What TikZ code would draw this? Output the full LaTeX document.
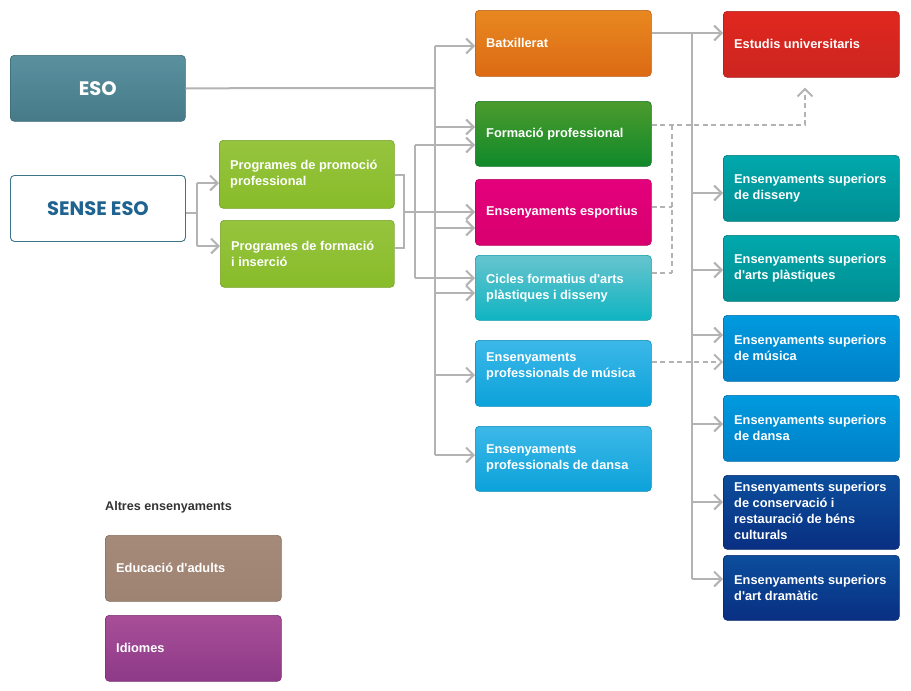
\documentclass[tikz,border=0pt]{standalone}
\usepackage{fontspec}
\setmainfont{Liberation Sans}
\newfontfamily\esofont{Poppins}
\usetikzlibrary{arrows.meta}
\newcommand{\q}{\textquotesingle}
\definecolor{lnc}{HTML}{B3B3B3}
\definecolor{eT}{HTML}{5A919F}\definecolor{eB}{HTML}{467A89}
\definecolor{seB}{HTML}{3D7489}\definecolor{seT}{HTML}{1F6390}
\definecolor{baT}{HTML}{E88820}\definecolor{baB}{HTML}{DC6A14}
\definecolor{fpT}{HTML}{4C9B2C}\definecolor{fpB}{HTML}{10892B}
\definecolor{esT}{HTML}{E4007C}\definecolor{esB}{HTML}{D8006E}
\definecolor{ciT}{HTML}{66C4CE}\definecolor{ciB}{HTML}{10B4C2}
\definecolor{muT}{HTML}{3CB8E8}\definecolor{muB}{HTML}{0CA2DA}
\definecolor{unT}{HTML}{E0271F}\definecolor{unB}{HTML}{CC2520}
\definecolor{diT}{HTML}{00A8AC}\definecolor{diB}{HTML}{008E92}
\definecolor{smT}{HTML}{009ADE}\definecolor{smB}{HTML}{0080C8}
\definecolor{coT}{HTML}{0B4E9C}\definecolor{coB}{HTML}{0A2F82}
\definecolor{prT}{HTML}{96C43E}\definecolor{prB}{HTML}{88BC2A}
\definecolor{adT}{HTML}{A68A79}\definecolor{adB}{HTML}{9E8272}
\definecolor{idT}{HTML}{A84E98}\definecolor{idB}{HTML}{8E3A88}
\definecolor{lbl}{HTML}{333333}
\newcommand{\mybox}[9]{%
  \node[boxst, top color=#6, bottom color=#7, draw=#7!85!black,
        minimum width=#4pt, minimum height=#5pt, anchor=north west] (#1) at (#2,#3) {};
  \node[txtst] (#1t) at ([xshift=11pt,yshift=#9pt]#1.west) {#8};}
\begin{document}
\begin{tikzpicture}[x=1pt,y=-1pt,
  boxst/.style={rounded corners=4pt, line width=0.6pt, inner sep=0pt},
  txtst/.style={anchor=west, align=left, text=white, inner sep=0pt,
                font=\bfseries\fontsize{12.8}{16}\selectfont},
  ln/.style={draw=lnc, line width=2pt},
  arr/.style={ln, -{Straight Barb[length=7.5pt,width=15pt,line width=2pt]}},
  dsh/.style={draw=lnc, line width=1.9pt, dash pattern=on 5pt off 3.5pt},
  darr/.style={dsh, -{Straight Barb[length=7.5pt,width=15pt,line width=1.9pt]}}]
\useasboundingbox (0,0) rectangle (911,691);
% left column
\node[boxst, top color=eT, bottom color=eB, draw=eB!85!black,
      minimum width=175pt, minimum height=66pt, anchor=north west,
      text=white, font=\esofont\bfseries\fontsize{19.5}{22}\selectfont] (eso) at (10,55) {ESO};
\node[boxst, fill=white, draw=seB, line width=0.9pt,
      minimum width=175pt, minimum height=66pt, anchor=north west,
      text=seT, font=\esofont\bfseries\fontsize{19.5}{22}\selectfont] (se) at (10,175) {SENSE ESO};
\mybox{pp}{219}{140}{175}{68}{prT}{prB}{Programes de promoció\\professional}{0}
\mybox{pfi}{220}{220}{174}{67}{prT}{prB}{Programes de formació\\i inserció}{0}
% middle column
\mybox{batx}{475}{10}{176}{66}{baT}{baB}{Batxillerat}{0}
\mybox{fp}{475}{101}{176}{65}{fpT}{fpB}{Formació professional}{0}
\mybox{esp}{475}{179}{176}{66}{esT}{esB}{Ensenyaments esportius}{0}
\mybox{cic}{475}{255}{176}{65}{ciT}{ciB}{Cicles formatius d\q arts\\plàstiques i disseny}{0}
\mybox{mus}{475}{340}{176}{66}{muT}{muB}{Ensenyaments\\professionals de música}{7}
\mybox{dan}{475}{426}{176}{65}{muT}{muB}{Ensenyaments\\professionals de dansa}{0}
% right column
\mybox{univ}{723}{11}{176}{66}{unT}{unB}{Estudis universitaris}{0}
\mybox{sdis}{723}{155}{176}{66}{diT}{diB}{Ensenyaments superiors\\de disseny}{0}
\mybox{sart}{723}{235}{176}{66}{diT}{diB}{Ensenyaments superiors\\d\q arts plàstiques}{0}
\mybox{smus}{723}{315}{176}{66}{smT}{smB}{Ensenyaments superiors\\de música}{0}
\mybox{sdan}{723}{395}{176}{66}{smT}{smB}{Ensenyaments superiors\\de dansa}{0}
\mybox{scon}{723}{475}{176}{74}{coT}{coB}{Ensenyaments superiors\\de conservació i\\restauració de béns\\culturals}{1}
\mybox{sdra}{723}{555}{176}{65}{coT}{coB}{Ensenyaments superiors\\d\q art dramàtic}{0}
% others
\node[anchor=west, text=lbl, inner sep=0pt, font=\bfseries\fontsize{12.6}{15}\selectfont] (alt) at (105,507) {Altres ensenyaments};
\mybox{adu}{105}{535}{176}{66}{adT}{adB}{Educació d\q adults}{0}
\mybox{idi}{105}{615}{176}{66}{idT}{idB}{Idiomes}{0}
% SENSE ESO bracket
\draw[ln] (se.east |- 0,213) -- (197,213);
\draw[ln] (197,183) -- (197,246);
\draw[arr] (197,183) -- (pp.west |- 0,183);
\draw[arr] (197,246) -- (pfi.west |- 0,246);
% programmes bracket
\draw[ln] (pp.east |- 0,175) -- (404,175) -- (404,248) -- (pfi.east |- 0,248);
\draw[arr] (404,212) -- (esp.west |- 0,212);
\draw[ln] (415,145) -- (415,278);
\draw[arr] (415,145) -- (fp.west |- 0,145);
\draw[arr] (415,278) -- (cic.west |- 0,278);
% ESO trunk
\draw[ln] (eso.east) -- (435,88);
\draw[ln] (435,46) -- (435,455);
\draw[arr] (435,46) -- (batx.west |- 0,46);
\draw[arr] (435,127) -- (fp.west |- 0,127);
\draw[arr] (435,228) -- (esp.west |- 0,228);
\draw[arr] (435,293) -- (cic.west |- 0,293);
\draw[arr] (435,375) -- (mus.west |- 0,375);
\draw[arr] (435,455) -- (dan.west |- 0,455);
% right trunk
\draw[ln] (batx.east |- 0,33) -- (692,33);
\draw[arr] (692,33) -- (univ.west |- 0,33);
\draw[ln] (692,33) -- (692,579);
\draw[arr] (692,193) -- (sdis.west |- 0,193);
\draw[arr] (692,270) -- (sart.west |- 0,270);
\draw[arr] (692,335) -- (smus.west |- 0,335);
\draw[arr] (692,424) -- (sdan.west |- 0,424);
\draw[arr] (692,502) -- (scon.west |- 0,502);
\draw[arr] (692,579) -- (sdra.west |- 0,579);
% dashed
\draw[darr] (fp.east |- 0,125) -- (805,125) -- ([yshift=-10pt]univ.south -| 805,0);
\draw[dsh] (672,125) -- (672,273);
\draw[dsh] (esp.east |- 0,207) -- (672,207);
\draw[dsh] (cic.east |- 0,273) -- (672,273);
\draw[darr] (mus.east |- 0,362) -- (smus.west |- 0,362);
\end{tikzpicture}
\end{document}
